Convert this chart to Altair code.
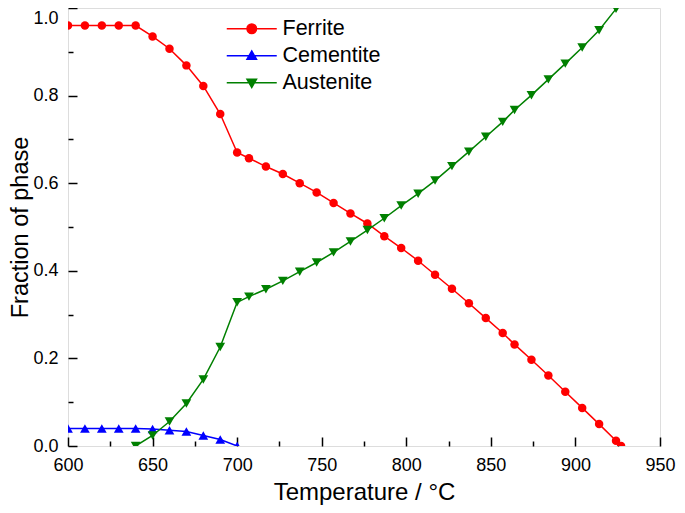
import altair as alt
import pandas as pd

# ---- data ----
ferrite_T = [600, 610, 620, 630, 640, 650, 660, 670, 680, 690, 700,
             707, 717, 727, 737, 747, 757, 767, 777, 787, 797, 807, 817, 827, 837, 847, 857,
             864, 874, 884, 894, 904, 914, 924, 927]
ferrite = [0.960, 0.960, 0.960, 0.960, 0.960, 0.935, 0.907, 0.869, 0.822, 0.758, 0.670,
           0.657, 0.638, 0.621, 0.600, 0.579, 0.555, 0.531, 0.508, 0.479, 0.452, 0.423, 0.391, 0.359, 0.326, 0.292, 0.258,
           0.232, 0.197, 0.161, 0.124, 0.087, 0.050, 0.012, 0.0]

cementite_T = [600, 610, 620, 630, 640, 650, 660, 670, 680, 690, 700]
cementite = [0.040, 0.040, 0.040, 0.040, 0.040, 0.039, 0.036, 0.033, 0.024, 0.015, 0.0]

austenite_T = [640, 650, 660, 670, 680, 690, 700,
               707, 717, 727, 737, 747, 757, 767, 777, 787, 797, 807, 817, 827, 837, 847, 857,
               864, 874, 884, 894, 904, 914, 924]
austenite = [0.0, 0.024, 0.056, 0.097, 0.152, 0.226, 0.328,
             0.341, 0.358, 0.377, 0.398, 0.419, 0.442, 0.467, 0.493, 0.520, 0.549, 0.576, 0.606, 0.639, 0.672, 0.706, 0.740,
             0.767, 0.801, 0.837, 0.873, 0.910, 0.949, 0.998]

series_names = ["Ferrite", "Cementite", "Austenite"]
series_colors = ["#ff0000", "#0000ff", "#008000"]
series_shapes = ["circle", "triangle-up", "triangle-down"]

x_major = [600, 650, 700, 750, 800, 850, 900, 950]
x_minor = [625, 675, 725, 775, 825, 875, 925]
y_major = [0.0, 0.2, 0.4, 0.6, 0.8, 1.0]
y_minor = [0.1, 0.3, 0.5, 0.7, 0.9]

rows = []
for name, Ts, vals in [("Ferrite", ferrite_T, ferrite),
                       ("Cementite", cementite_T, cementite),
                       ("Austenite", austenite_T, austenite)]:
    for t, v in zip(Ts, vals):
        rows.append({"series": name, "T": t, "frac": v})
df = pd.DataFrame(rows)

W, H = 592, 438
FONT = "Liberation Sans"
xs = alt.Scale(domain=[600, 950], nice=False, zero=False)
ys = alt.Scale(domain=[0, 1], nice=False, zero=False)

main_x = alt.Axis(title="Temperature / °C", values=x_major, format="d", ticks=False, tickSize=0,
                  domain=False, grid=False, labelFontSize=18, labelPadding=10, labelFlush=False,
                  labelOverlap=False, titleFontSize=24, titleFontWeight="normal", titlePadding=6,
                  labelFont=FONT, titleFont=FONT, labelColor="#000", titleColor="#000", orient="bottom")
main_y = alt.Axis(title="Fraction of phase", values=y_major, format=".1f", ticks=False, tickSize=0,
                  domain=False, grid=False, labelFontSize=18, labelPadding=10, labelFlush=False,
                  labelOverlap=False, titleFontSize=23.5, titleFontWeight="normal", titlePadding=0,
                  labelFont=FONT, titleFont=FONT, labelColor="#000", titleColor="#000", orient="left",
                  labelOffset={"condition": {"test": "datum.value == 1", "value": 10}, "value": 0})

def tick_axis_x(vals, size):
    return alt.Axis(title=None, values=vals, labels=False, ticks=True, tickSize=size, tickWidth=1.5,
                    tickColor="#000", domain=False, grid=False, orient="top", offset=-H)

def tick_axis_y(vals, size):
    return alt.Axis(title=None, values=vals, labels=False, ticks=True, tickSize=size, tickWidth=1.5,
                    tickColor="#000", domain=False, grid=False, orient="right", offset=-W)

layers = []
for i, (name, col, shp) in enumerate(zip(series_names, series_colors, series_shapes)):
    if i == 0:
        xa_line, ya_line = main_x, main_y
        xa_pt, ya_pt = tick_axis_x(x_major, 9), tick_axis_y(y_major, 9)
    else:
        xa_line = ya_line = xa_pt = ya_pt = None
    base = alt.Chart(df).transform_filter(alt.datum.series == name)
    line = base.mark_line(color=col, strokeWidth=1.5, clip=True).encode(
        x=alt.X("T:Q", scale=xs, axis=xa_line),
        y=alt.Y("frac:Q", scale=ys, axis=ya_line),
        order="T:Q",
    )
    size = 72 if shp == "circle" else 95
    pts = base.mark_point(shape=shp, filled=True, size=size, opacity=1, color=col, clip=True).encode(
        x=alt.X("T:Q", scale=xs, axis=xa_pt),
        y=alt.Y("frac:Q", scale=ys, axis=ya_pt),
    )
    layers += [line, pts]

# legend symbols: a 50px line with the marker in its middle (symbol box is 10px, path unit = 5px)
legend_paths = [
    "M-1,0L9,0M3.05,0A0.95,0.95,0,1,0,4.95,0A0.95,0.95,0,1,0,3.05,0Z",
    "M-1,0L9,0M3.05,0.7L4.95,0.7L4,-0.95Z",
    "M-1,0L9,0M3.05,-0.7L4.95,-0.7L4,0.95Z",
]
leg = alt.Legend(title=None, orient="none", legendX=153, legendY=10, padding=0,
                 labelFontSize=21.5, labelFont=FONT, labelColor="#000", labelOffset=40,
                 rowPadding=4, symbolSize=100, symbolStrokeWidth=1.5, symbolOpacity=1)
legend_layer = alt.Chart(df).transform_filter("datum.T < 0").mark_point(
    filled=True, opacity=1, size=100, strokeWidth=1.5).encode(
    x=alt.X("T:Q", scale=xs, axis=tick_axis_x(x_minor, 5)),
    y=alt.Y("frac:Q", scale=ys, axis=tick_axis_y(y_minor, 5)),
    color=alt.Color("series:N", scale=alt.Scale(domain=series_names, range=series_colors), legend=leg),
    stroke=alt.Stroke("series:N", scale=alt.Scale(domain=series_names, range=series_colors), legend=leg),
    shape=alt.Shape("series:N", scale=alt.Scale(domain=series_names, range=legend_paths), legend=leg),
)
layers.append(legend_layer)

chart = alt.layer(*layers).resolve_axis(x="independent", y="independent").properties(
    width=W, height=H,
    autosize=alt.AutoSizeParams(type="none"),
    padding={"left": 60, "top": 0, "right": 16, "bottom": 59},
).configure_view(stroke="#111", strokeWidth=1.5).configure(background="white")

chart.save("out.html", embed_options={"renderer": "svg", "actions": False})
